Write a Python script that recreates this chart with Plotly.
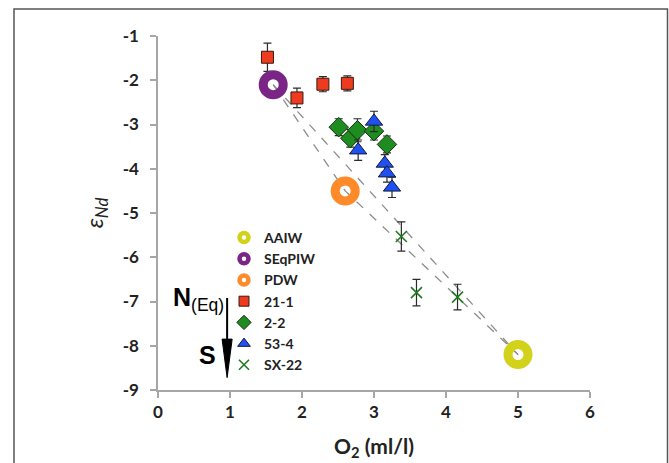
import plotly.graph_objects as go

# End-members
em_names = ["AAIW", "SEqPIW", "PDW"]
em_x = [5.0, 1.6, 2.6]
em_y = [-8.2, -2.1, -4.5]
em_colors = ["#d2d21a", "#7a2585", "#ff8a2a"]

# Core data
s21_x = [1.52, 1.93, 2.29, 2.63]
s21_y = [-1.48, -2.40, -2.09, -2.07]
s21_e = [0.32, 0.22, 0.17, 0.17]

s22_x = [2.51, 2.67, 2.77, 3.00, 3.18]
s22_y = [-3.06, -3.31, -3.13, -3.15, -3.45]
s22_e = [0.19, 0.20, 0.26, 0.20, 0.19]

s53_x = [2.78, 3.00, 3.15, 3.18, 3.25]
s53_y = [-3.58, -2.93, -3.88, -4.10, -4.42]
s53_e = [0.23, 0.23, 0.20, 0.20, 0.23]

sx_x = [3.38, 3.59, 4.16]
sx_y = [-5.53, -6.80, -6.90]
sx_e = [0.33, 0.30, 0.29]

x_ticks = [0, 1, 2, 3, 4, 5, 6]
x_ticktext = ["0", "1", "2", "3", "4", "5", "6"]
y_ticks = [-1, -2, -3, -4, -5, -6, -7, -8, -9]
y_ticktext = ["-1", "-2", "-3", "-4", "-5", "-6", "-7", "-8", "-9"]

fig = go.Figure()

# Mixing lines
fig.add_trace(go.Scatter(x=[em_x[1], em_x[2], em_x[0]], y=[em_y[1], em_y[2], em_y[0]],
                         mode="lines", line=dict(color="#8c8c8c", width=1.3, dash="dash"),
                         showlegend=False, hoverinfo="skip"))
fig.add_trace(go.Scatter(x=[em_x[1], em_x[0]], y=[em_y[1], em_y[0]],
                         mode="lines", line=dict(color="#8c8c8c", width=1.3, dash="dash"),
                         showlegend=False, hoverinfo="skip"))

err_style = dict(type="data", visible=True, color="#2a2a2a", thickness=1.2, width=4)

def add_series(name, xs, ys, es, symbol, color, size, lcolor, lw):
    fig.add_trace(go.Scatter(x=xs, y=ys, mode="markers", name=name, showlegend=False,
                             error_y=dict(array=es, **err_style),
                             marker=dict(symbol=symbol, color=color, size=size,
                                         line=dict(color=lcolor, width=lw))))

add_series("21-1", s21_x, s21_y, s21_e, "square", "#ee3a1e", 12, "#3a1a10", 1)
add_series("2-2", s22_x, s22_y, s22_e, "diamond", "#1f8c1f", 15, "#143014", 1)
add_series("53-4", s53_x, s53_y, s53_e, "triangle-up", "#2050f0", 15, "#101a40", 1)
fig.add_trace(go.Scatter(x=sx_x, y=sx_y, mode="markers", name="SX-22", showlegend=False,
                         error_y=dict(array=sx_e, **err_style),
                         marker=dict(symbol="x-thin", size=11, color="#1f7a1f",
                                     line=dict(color="#1f7a1f", width=1.6))))

# End-member rings
for n, xv, yv, c in zip(em_names, em_x, em_y, em_colors):
    fig.add_trace(go.Scatter(x=[xv], y=[yv], mode="markers", name=n, showlegend=False,
                             marker=dict(symbol="circle-open", size=20, color=c,
                                         line=dict(color=c, width=9))))

# Legend-only entries
for n, c in zip(em_names, em_colors):
    fig.add_trace(go.Scatter(x=[None], y=[None], mode="markers", name=n,
                             marker=dict(symbol="circle-open", size=9, color=c,
                                         line=dict(color=c, width=4.5))))
fig.add_trace(go.Scatter(x=[None], y=[None], mode="markers", name="21-1",
                         marker=dict(symbol="square", size=10, color="#ee3a1e",
                                     line=dict(color="#3a1a10", width=1))))
fig.add_trace(go.Scatter(x=[None], y=[None], mode="markers", name="2-2",
                         marker=dict(symbol="diamond", size=11, color="#1f8c1f",
                                     line=dict(color="#143014", width=1))))
fig.add_trace(go.Scatter(x=[None], y=[None], mode="markers", name="53-4",
                         marker=dict(symbol="triangle-up", size=11, color="#2050f0",
                                     line=dict(color="#101a40", width=1))))
fig.add_trace(go.Scatter(x=[None], y=[None], mode="markers", name="SX-22",
                         marker=dict(symbol="x-thin", size=10, color="#1f7a1f",
                                     line=dict(color="#1f7a1f", width=1.6))))

L, R, T, B = 158, 79, 36, 73
W, H = 669, 463
pw, ph = W - L - R, H - T - B

def px2paper_x(p):
    return (p - L) / pw

def px2paper_y(p):
    return 1 - (p - T) / ph

fig.update_layout(
    width=W, height=H,
    margin=dict(l=L, r=R, t=T, b=B),
    paper_bgcolor="white", plot_bgcolor="white",
    font=dict(family="Lato", color="#222222"),
    xaxis=dict(range=[0, 6], tickvals=x_ticks, ticktext=x_ticktext, showgrid=False, zeroline=False,
               automargin=False,
               showline=True, linecolor="#a6a6a6", linewidth=1.5,
               ticks="outside", ticklen=6, tickcolor="#a6a6a6", tickwidth=1.5,
               tickfont=dict(size=17, family="Lato", color="#222222", weight="bold"),
               title=dict(text="O<sub>2</sub> (ml/l)", standoff=18,
                          font=dict(size=21, family="Lato", color="#222222", weight="bold"))),
    yaxis=dict(range=[-9, -1], tickvals=y_ticks, ticktext=y_ticktext, showgrid=False, zeroline=False,
               automargin=False,
               showline=True, linecolor="#a6a6a6", linewidth=1.5,
               ticks="outside", ticklen=6, tickcolor="#a6a6a6", tickwidth=1.5,
               ticklabelstandoff=8,
               tickfont=dict(size=17, family="Lato", color="#222222", weight="bold"),
               title=dict(text="<i>ε<sub>Nd</sub></i>", standoff=12,
                          font=dict(size=24, family="Lato", color="#222222"))),
    legend=dict(x=px2paper_x(224), y=px2paper_y(222), xanchor="left", yanchor="top",
                bgcolor="rgba(0,0,0,0)", tracegroupgap=0,
                font=dict(size=14, family="Lato", color="#222222", weight="bold")),
    showlegend=True,
)

# Image border
fig.add_shape(type="rect", xref="paper", yref="paper",
              x0=px2paper_x(14), x1=px2paper_x(667.5), y0=px2paper_y(470), y1=px2paper_y(9),
              line=dict(color="#555555", width=1.5), fillcolor="rgba(0,0,0,0)", layer="below")

# N(Eq) -> S arrow
fig.add_shape(type="line", x0=0.96, x1=0.96, y0=-6.92, y1=-7.95,
              line=dict(color="black", width=2))
fig.add_shape(type="path", path="M 0.89,-7.85 L 1.03,-7.85 L 0.96,-8.72 Z",
              fillcolor="black", line=dict(color="black", width=1))
fig.add_annotation(x=0.94, y=-6.95, xanchor="right", yanchor="middle", showarrow=False,
                   text="<b>N</b><sub>(Eq)</sub>",
                   font=dict(size=25, family="Liberation Sans", color="black"))
fig.add_annotation(x=0.83, y=-8.2, xanchor="right", yanchor="middle", showarrow=False,
                   text="<b>S</b>", font=dict(size=25, family="Liberation Sans", color="black"))

fig.write_html("out.html")
